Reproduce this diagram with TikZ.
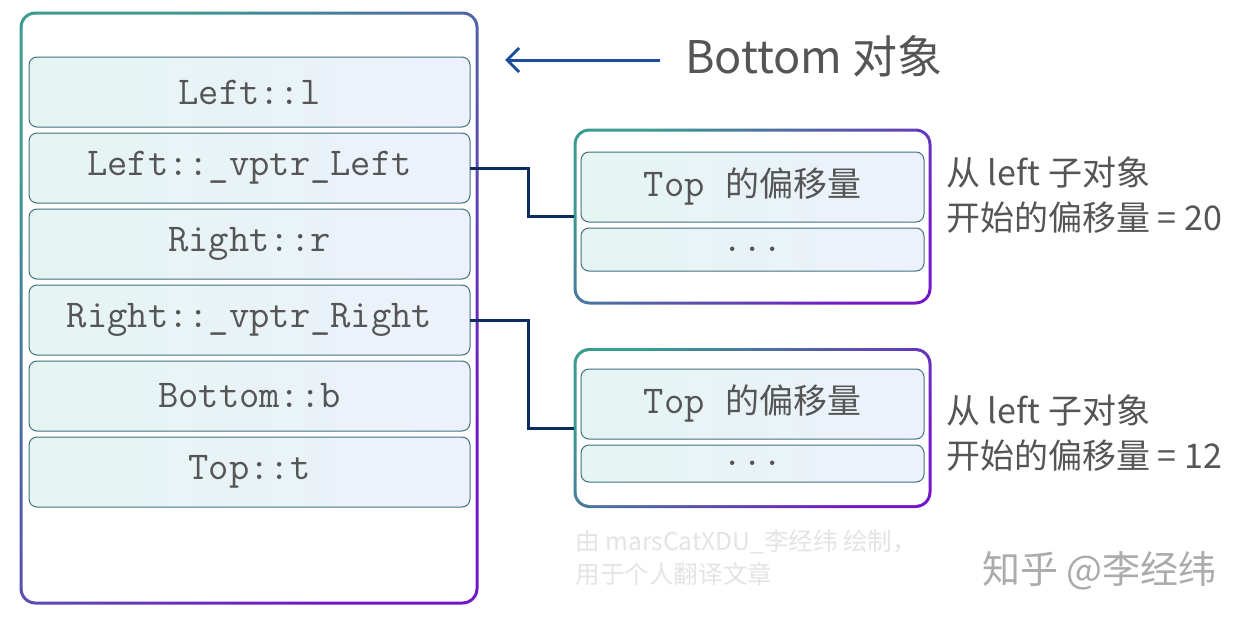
\documentclass[tikz,border=0pt]{standalone}
\usepackage{fontspec}
\newfontfamily\cjk{Noto Sans CJK SC}
\usetikzlibrary{arrows.meta, positioning}

\definecolor{frameteal}{HTML}{3B9B8F}
\definecolor{frameblue}{HTML}{1B4E9B}
\definecolor{framepurple}{HTML}{7216C8}
\definecolor{cellleft}{HTML}{E5F5F2}
\definecolor{cellright}{HTML}{EDF1FC}
\definecolor{cellline}{HTML}{41707F}
\definecolor{linknavy}{HTML}{0C2D5E}
\definecolor{textgray}{HTML}{555555}
\definecolor{markgray}{HTML}{E4E4E4}
\definecolor{logogray}{HTML}{ABABAB}

\tikzset{
  objframe/.style={shade, top color=frameteal, middle color=frameblue,
    bottom color=framepurple, shading angle=45, rounded corners=8pt,
    inner sep=0pt, outer sep=0pt,
    path picture={\fill[white, rounded corners=6.5pt]
      ([shift={(1.5pt,-1.5pt)}]path picture bounding box.north west) rectangle
      ([shift={(-1.5pt,1.5pt)}]path picture bounding box.south east);}},
  cell/.style={draw=cellline, line width=0.5pt, left color=cellleft,
    right color=cellright, rounded corners=4pt, minimum width=220.5pt,
    minimum height=35pt, inner sep=0pt, outer sep=0pt, text=textgray,
    font=\ttfamily\fontsize{19.7}{22}\selectfont},
  subcell/.style={cell, minimum width=171.5pt},
  link/.style={draw=linknavy, line width=1.5pt},
  pointer/.style={draw=frameblue, line width=1.5pt,
    -{Straight Barb[length=6pt, width=12pt]}},
  note/.style={text=textgray, font=\cjk\fontsize{17}{22.5}\selectfont,
    align=left, inner sep=0pt, anchor=west},
}

\begin{document}
\begin{tikzpicture}[x=0.5pt, y=-0.5pt]
  \useasboundingbox[fill=white] (0,0) rectangle (1242,621);

  % Bottom object
  \node (bottom) [objframe, minimum width=229.5pt, minimum height=296.5pt] at (249,308) {};
  \node (l) [cell] at (249.5,92) {Left::l};
  \node (vptrl) [cell, below=3pt of l] {Left::\_vptr\_Left};
  \node (r) [cell, below=3pt of vptrl] {Right::r};
  \node (vptrr) [cell, below=3pt of r] {Right::\_vptr\_Right};
  \node (b) [cell, below=3pt of vptrr] {Bottom::b};
  \node (t) [cell, below=3pt of b] {Top::t};

  % vtables
  \node (vtbl1) [objframe, minimum width=179pt, minimum height=88pt] at (752.5,216.5) {};
  \node (topoff1) [subcell] at (752.5,187) {Top\ {\cjk\fontsize{17}{20}\selectfont 的偏移量}};
  \node (more1) [subcell, minimum height=21.5pt, below=3pt of topoff1] {\raisebox{-2pt}{...}};

  \node (vtbl2) [objframe, minimum width=179pt, minimum height=80pt] at (752.5,428) {};
  \node (topoff2) [subcell] at (752.5,404) {Top\ {\cjk\fontsize{17}{20}\selectfont 的偏移量}};
  \node (more2) [subcell, minimum height=18.5pt, below=3pt of topoff2] {\raisebox{-2pt}{...}};

  \draw [link] (vptrl.east) -- ++(58,0) |- (vtbl1.west);
  \draw [link] (vptrr.east) -- ++(58,0) |- (vtbl2.west);

  % labels
  \node (botlabel) [note, font=\cjk\fontsize{22.5}{26}\selectfont] at (685,56) {Bottom 对象};
  \coordinate (tail) at (660,60);
  \draw [pointer, shorten >=13.25pt] (tail) -- (bottom.east |- tail);

  \node (note1) [note] at (946,195.5) {从 left 子对象\\开始的偏移量 = 20};
  \node (note2) [note] at (946,433) {从 left 子对象\\开始的偏移量 = 12};

  \node (credit) [note, text=markgray, font=\cjk\fontsize{12.3}{16.5}\selectfont]
    at (575,558) {由 marsCatXDU\_李经纬 绘制，\\用于个人翻译文章};
  \node (zhihu) [note, text=logogray, font=\cjk\fontsize{19}{22}\selectfont]
    at (982,571) {知乎 @李经纬};
\end{tikzpicture}
\end{document}
